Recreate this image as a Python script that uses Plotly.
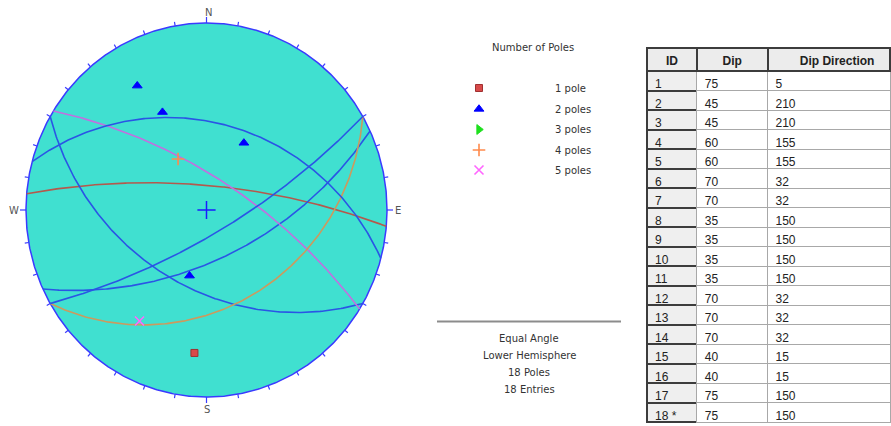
import numpy as np
import plotly.graph_objects as go

# ---- data: planes as dip / dip direction ----
ids = [str(i) for i in range(1, 18)] + ["18 *"]
dips = [75, 45, 45, 60, 60, 70, 70, 35, 35, 35, 35, 70, 70, 70, 40, 40, 75, 75]
dip_dirs = [5, 210, 210, 155, 155, 32, 32, 150, 150, 150, 150, 32, 32, 32, 15, 15, 150, 150]
table_headers = ["ID", "Dip", "\u00a0" * 5 + "Dip Direction"]

# pole-count classes (1..5 poles)
count_labels = ["1 pole", "2 poles", "3 poles", "4 poles", "5 poles"]
count_symbols = ["square", "triangle-up", "triangle-right", "cross-thin", "x-thin"]
count_colors = ["#d84a4a", "#0000ff", "#1ee01e", "#ff8a4c", "#ff66ff"]
plane_colors = ["#b4594d", "#2a55e5", "#22bb22", "#cc9a5e", "#c070e0"]

compass = ["N", "E", "S", "W"]
footer_lines = ["Equal Angle", "Lower Hemisphere", "18 Poles", "18 Entries"]

W, H = 891, 426
CX, CY = 206.5, 210.0      # primitive centre (px)
RX, RY = 180.5, 187.0      # primitive radii (px)


def project(trend_deg, plunge_deg):
    """Equal-angle (stereographic) projection, lower hemisphere."""
    r = np.tan(np.radians(45.0 - np.asarray(plunge_deg) / 2.0))
    t = np.radians(trend_deg)
    return r * np.sin(t), r * np.cos(t)


def great_circle(dip, ddir, n=241):
    a = np.radians(ddir)
    d = np.radians(dip)
    s = a - np.pi / 2
    th = np.linspace(0, np.pi, n)
    north = np.cos(th) * np.cos(s) + np.sin(th) * np.cos(d) * np.cos(a)
    east = np.cos(th) * np.sin(s) + np.sin(th) * np.cos(d) * np.sin(a)
    down = np.sin(th) * np.sin(d)
    plunge = np.degrees(np.arcsin(np.clip(down, -1, 1)))
    trend = np.degrees(np.arctan2(east, north))
    return project(trend, plunge)


def marker_style(k):
    thin = count_symbols[k].endswith("thin")
    if thin:
        return dict(symbol=count_symbols[k], size=9, color=count_colors[k],
                    line=dict(color=count_colors[k], width=1.6))
    edge = "#a03030" if k == 0 else count_colors[k]
    return dict(symbol=count_symbols[k], size=7 if k == 0 else 8.5, color=count_colors[k],
                line=dict(color=edge, width=1))


# group identical planes, keeping first-seen order
sets = {}
for dp, dd in zip(dips, dip_dirs):
    sets[(dp, dd)] = sets.get((dp, dd), 0) + 1

fig = go.Figure()

# primitive circle fill
ang = np.radians(np.linspace(0, 360, 721))
fig.add_trace(go.Scatter(x=np.sin(ang), y=np.cos(ang), mode="lines", fill="toself",
                         fillcolor="#40e0d0", line=dict(color="#3a3aff", width=1.5),
                         hoverinfo="skip", showlegend=False))

# great circles
for (dp, dd), n in sets.items():
    gx, gy = great_circle(dp, dd)
    fig.add_trace(go.Scatter(x=gx, y=gy, mode="lines",
                             line=dict(color=plane_colors[n - 1], width=1.6),
                             hoverinfo="skip", showlegend=False))

# primitive ticks every 10 degrees
tx, ty = [], []
for az in range(0, 360, 10):
    L = 6.0 if az % 90 == 0 else 4.0
    sa, ca = np.sin(np.radians(az)), np.cos(np.radians(az))
    tx += [sa, sa * (1 + L / RX), None]
    ty += [ca, ca * (1 + L / RY), None]
fig.add_trace(go.Scatter(x=tx, y=ty, mode="lines", line=dict(color="#3a3aff", width=1.2),
                         hoverinfo="skip", showlegend=False))

# poles
for (dp, dd), n in sets.items():
    px, py = project(dd + 180.0, 90.0 - dp)
    fig.add_trace(go.Scatter(x=[px], y=[py], mode="markers", showlegend=False,
                             hoverinfo="skip", marker=marker_style(n - 1)))

# centre cross
fig.add_trace(go.Scatter(x=[0], y=[0], mode="markers", showlegend=False, hoverinfo="skip",
                         marker=dict(symbol="cross-thin", size=13, line=dict(color="#1a1aff", width=1.5))))

# legend symbols (pixel-coordinate overlay axes)
leg_y = [88, 109, 129.5, 150, 170]
for k in range(5):
    fig.add_trace(go.Scatter(x=[479], y=[leg_y[k]], xaxis="x2", yaxis="y2", mode="markers",
                             showlegend=False, hoverinfo="skip", marker=marker_style(k)))

# data table
nrow = len(ids)
fig.add_trace(go.Table(
    domain=dict(x=[647 / W, 1.0], y=[0.0, 1 - 48 / H]),
    columnwidth=[50, 71, 123],
    header=dict(values=table_headers,
                fill=dict(color="#ececec"), line=dict(color="#3c3c3c", width=2),
                align="center", height=23,
                font=dict(family="Liberation Sans", size=12, color="#222222", weight="bold")),
    cells=dict(values=[ids, dips, dip_dirs],
               fill=dict(color=[["#efefef"] * nrow, ["#ffffff"] * nrow, ["#ffffff"] * nrow]),
               line=dict(color=["#3c3c3c", "#a8a8a8", "#a8a8a8"], width=[2, 1, 1]),
               align="left", height=19.5,
               font=dict(family="Liberation Sans", size=12, color="#222222")),
))

ann = []
# compass letters
for lab, (x, y) in zip(compass, [(208, 12), (398, 210), (207, 409), (14, 210)]):
    ann.append(dict(x=x, y=y, xref="x2", yref="y2", text=lab, showarrow=False,
                    font=dict(family="DejaVu Sans", size=10, color="#555555"),
                    xanchor="center", yanchor="middle"))
# legend text
ann.append(dict(x=533, y=47, xref="x2", yref="y2", text="Number of Poles", showarrow=False,
                font=dict(family="DejaVu Sans", size=10, color="#333333"),
                xanchor="center", yanchor="middle"))
for k in range(5):
    ann.append(dict(x=553, y=leg_y[k], xref="x2", yref="y2", text=count_labels[k], showarrow=False,
                    font=dict(family="DejaVu Sans", size=10, color="#333333"),
                    xanchor="left", yanchor="middle"))
for i, t in enumerate(footer_lines):
    ann.append(dict(x=529, y=338 + i * 17, xref="x2", yref="y2", text=t, showarrow=False,
                    font=dict(family="DejaVu Sans", size=10, color="#333333"),
                    xanchor="center", yanchor="middle"))

x0 = -CX / RX
y0 = -(H - CY) / RY
fig.update_layout(
    width=W, height=H, margin=dict(l=0, r=0, t=0, b=0), autosize=False,
    paper_bgcolor="white", plot_bgcolor="rgba(0,0,0,0)",
    xaxis=dict(domain=[0, 1], range=[x0, x0 + W / RX], visible=False, fixedrange=True),
    yaxis=dict(domain=[0, 1], range=[y0, y0 + H / RY], visible=False, fixedrange=True),
    xaxis2=dict(domain=[0, 1], range=[0, W], visible=False, anchor="y2", fixedrange=True),
    yaxis2=dict(domain=[0, 1], range=[H, 0], visible=False, anchor="x2", fixedrange=True),
    shapes=[dict(type="line", xref="x2", yref="y2", x0=437, x1=621, y0=321.5, y1=321.5,
                 line=dict(color="#8c8c8c", width=2))],
    annotations=ann,
)

fig.write_html("out.html")
